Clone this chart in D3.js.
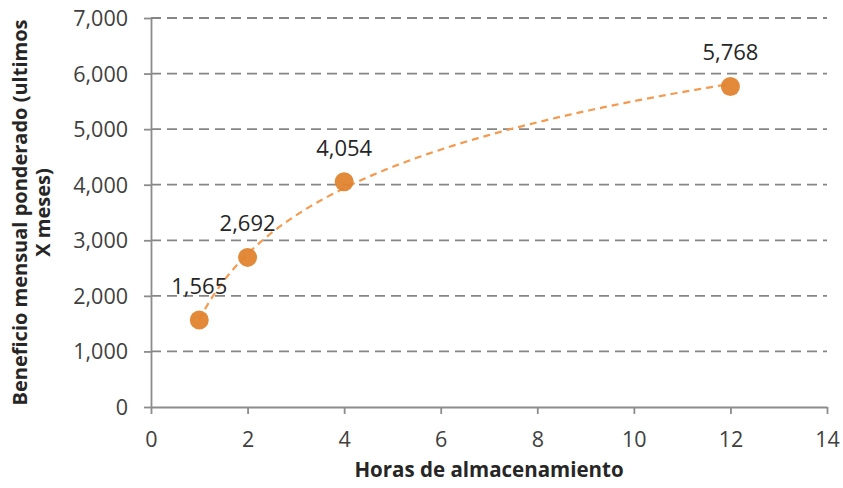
<!DOCTYPE html>
<html><head><meta charset="utf-8">
<script src="https://cdn.jsdelivr.net/npm/d3@7"></script>
<style>body{margin:0;background:#fff}svg{display:block}text{font-family:"Open Sans",sans-serif}</style>
</head><body>
<svg id="c" width="843" height="488"></svg>
<script>
const hours = [1, 2, 4, 12];
const benefit = [1565, 2692, 4054, 5768];
const xTicks = [0, 2, 4, 6, 8, 10, 12, 14];
const yTicks = [0, 1000, 2000, 3000, 4000, 5000, 6000, 7000];
const xTitle = "Horas de almacenamiento";
const yTitleLines = ["Beneficio mensual ponderado (ultimos", "X meses)"];

const svg = d3.select("#c");
const L = 151, R = 827, T = 18, B = 407;
const x = d3.scaleLinear().domain([0, 14]).range([L, R]);
const y = d3.scaleLinear().domain([0, 7000]).range([B, T]);
const fmt = d3.format(",");

// gridlines
svg.append("g").selectAll("line").data(yTicks.filter(d => d > 0)).join("line")
  .attr("x1", L).attr("x2", R).attr("y1", d => y(d)).attr("y2", d => y(d))
  .attr("stroke", "#858585").attr("stroke-width", 1.8).attr("stroke-dasharray", "10,6");

// axes
const gx = svg.append("g").attr("transform", `translate(0,${B})`)
  .call(d3.axisBottom(x).tickValues(xTicks).tickSize(7).tickSizeOuter(0).tickPadding(18).tickFormat(d3.format("d")));
const gy = svg.append("g").attr("transform", `translate(${L},0)`)
  .call(d3.axisLeft(y).tickValues(yTicks).tickSize(7).tickSizeOuter(0).tickPadding(16).tickFormat(fmt));
[gx, gy].forEach(g => {
  g.select(".domain").attr("stroke", "#8c8c8c").attr("stroke-width", 1.8);
  g.selectAll(".tick line").attr("stroke", "#8c8c8c").attr("stroke-width", 1.8);
  g.selectAll(".tick text").attr("fill", "#404040").style("font-size", "21.5px").style("font-family", "'Open Sans',sans-serif");
});
gy.selectAll(".tick text").attr("dy", "0.35em");

// logarithmic trendline (least squares on ln x)
const lx = hours.map(Math.log);
const mx = d3.mean(lx), my = d3.mean(benefit);
const a = d3.sum(lx.map((v, i) => (v - mx) * (benefit[i] - my))) / d3.sum(lx.map(v => (v - mx) ** 2));
const b = my - a * mx;
const xs = d3.range(0, 121).map(i => 1 + i * (12 - 1) / 120);
svg.append("path").datum(xs)
  .attr("d", d3.line().x(d => x(d)).y(d => y(a * Math.log(d) + b)))
  .attr("fill", "none").attr("stroke", "#F59A4F").attr("stroke-width", 2.2).attr("stroke-dasharray", "7,5");

// points
svg.append("g").selectAll("circle").data(hours).join("circle")
  .attr("cx", d => x(d)).attr("cy", (d, i) => y(benefit[i])).attr("r", 9.5)
  .attr("fill", "#E0832F").attr("fill-opacity", 0.95);

// labels
svg.append("g").selectAll("text").data(hours).join("text")
  .attr("x", d => x(d)).attr("y", (d, i) => y(benefit[i]) - 26)
  .attr("text-anchor", "middle").attr("fill", "#262626").style("font-size", "22px")
  .text((d, i) => fmt(benefit[i]));

// titles
svg.append("text").attr("x", 489).attr("y", 477).attr("text-anchor", "middle")
  .attr("fill", "#262626").style("font-size", "20.5px").style("font-weight", "bold").text(xTitle);
const yt = svg.append("text").attr("transform", `translate(27,${(T + B) / 2}) rotate(-90)`)
  .attr("text-anchor", "middle").attr("fill", "#262626").style("font-size", "20px").style("font-weight", "bold");
yTitleLines.forEach((t, i) => yt.append("tspan").attr("x", 0).attr("dy", i ? 23 : 0).text(t));
</script>
</body></html>
